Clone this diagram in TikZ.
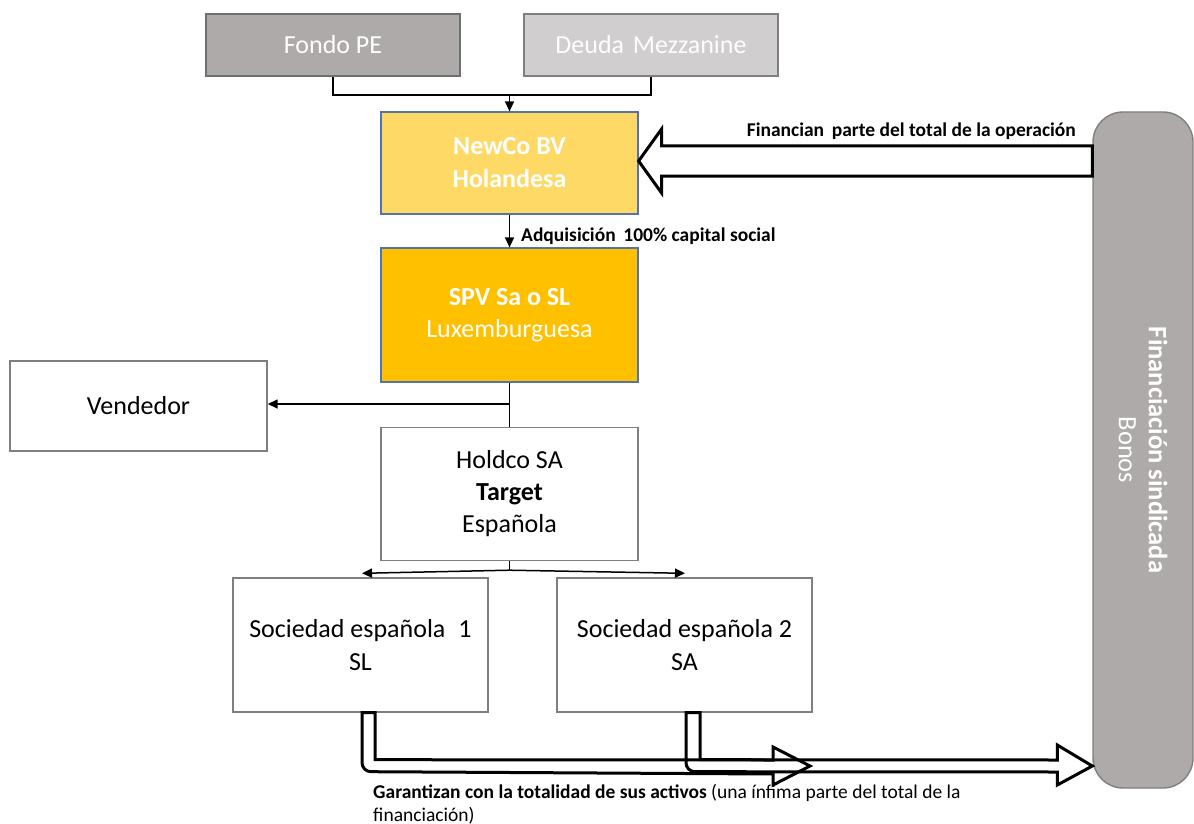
\documentclass[tikz,border=0pt]{standalone}
\usepackage{fontspec}
\setmainfont{Carlito}
\usetikzlibrary{arrows.meta,calc}
\definecolor{fondoC}{HTML}{ADAAA9}
\definecolor{deudaC}{HTML}{D0CECE}
\definecolor{newcoC}{HTML}{FFD966}
\definecolor{spvC}{HTML}{FFC000}
\definecolor{edgeG}{HTML}{7F7F7F}
\definecolor{edgeD}{HTML}{6F6F6F}
\definecolor{edgeB}{HTML}{5473A8}
\begin{document}
\begin{tikzpicture}[x=1pt,y=-1pt,
  box/.style={draw=edgeG,line width=1.4pt,fill=white,minimum width=257pt,inner sep=0pt,align=center,font=\fontsize{26}{32.5}\selectfont},
  grey/.style={box,draw=edgeD,line width=1.8pt,text=white},
  gold/.style={box,draw=edgeB,line width=1.2pt,text=white},
  conn/.style={line width=1.5pt,black},
  arr/.style={conn,-{Triangle[length=10pt,width=9pt]}},
  fat/.style={line width=3pt,black,line join=miter},
  lbl/.style={font=\fontsize{19.5}{23.5}\selectfont\bfseries,inner sep=0pt}
]
\useasboundingbox (0,0) rectangle (1194,824);

% nodes
\node[grey,fill=fondoC,minimum width=254pt,minimum height=62pt] (fondo) at (333,45) {Fondo PE};
\node[grey,fill=deudaC,draw=edgeG,minimum width=254pt,minimum height=62pt] (deuda) at (651,45) {Deuda\,\,Mezzanine};
\node[gold,fill=newcoC,minimum height=102pt,font=\fontsize{26}{33}\selectfont\bfseries] (newco) at (509.5,163) {NewCo BV\\Holandesa};
\node[gold,fill=spvC,minimum height=134pt] (spv) at (509.5,315) {\textbf{SPV Sa o SL}\\Luxemburguesa};
\node[box,minimum height=90pt] (vend) at (138.5,406) {Vendedor};
\node[box,minimum height=133pt,font=\fontsize{26}{32}\selectfont] (holdco) at (509.5,494) {Holdco SA\\\textbf{Target}\\Española};
\node[box,minimum width=255pt,minimum height=134pt] (soc1) at (360.5,645) {Sociedad española\,\,\,1\\SL};
\node[box,minimum width=255pt,minimum height=134pt] (soc2) at (684.5,645) {Sociedad española 2\\SA};
\node[draw=edgeG,line width=1.4pt,fill=fondoC,rounded corners=30pt,minimum width=100pt,minimum height=676pt,inner sep=0pt] (fin) at (1143,450) {};
\node[rotate=-90,text=white,align=center,font=\fontsize{26.5}{30}\selectfont] (fintxt) at (fin.center) {\textbf{Financiación sindicada}\\Bonos};

% top connectors
\coordinate (jtop) at (newco.north |- 0,95);
\draw[conn] (fondo.south) |- (jtop) -| (deuda.south);
\draw[arr] (jtop) -- (newco.north);

% newco -> spv
\draw[arr] (newco.south) -- (spv.north);
\node[lbl,anchor=west] (adq) at (521,236) {Adquisición\, 100\% capital social};

% spv -> holdco, vendedor
\coordinate (vj) at (spv.south |- vend.east);
\draw[conn] (spv.south) -- (holdco.north);
\draw[arr] ([yshift=2pt]vj) -- ([yshift=2pt]vend.east);

% holdco branches
\coordinate (hj) at ($(holdco.south)+(0,9)$);
\coordinate (b1) at ($(soc1.north)+(1.5,-4)$);
\coordinate (b2) at ($(soc2.north)+(0.5,-4)$);
\draw[conn] (holdco.south) -- (hj);
\draw[arr] (hj) -- (b1);
\draw[arr] (hj) -- (b2);

% big arrow fin -> newco
\coordinate (tipA) at (newco.east |- 0,161);
\coordinate (endA) at (fin.west |- 0,161);
\draw[fat,fill=white] (tipA) -- ++(23,-32) -- ++(0,17) -- ($(endA)+(0,-15)$) -- ($(endA)+(0,15)$) -- ($(tipA)+(23,15)$) -- ($(tipA)+(23,32)$) -- cycle;
\node[lbl,anchor=east] (finan) at (1076,131) {Financian\, parte del total de la operación};

% bent arrows
\coordinate (s1) at ($(soc1.south)+(1.5,0)$);
\coordinate (s2) at ($(soc2.south)+(1.5,0)$);
\coordinate (h1) at (810,766);
\coordinate (h2) at (fin.west |- 0,766);
\draw[fat] (s1) -- ++(13,0) -- ++(0,47) -- ($(h1)+(-37,-6)$) -- ++(0,-13) -- (h1) -- ++(-37,19) -- ++(0,-11) -- ($(s1)+(9,59)$) arc[start angle=90,end angle=180,radius=9] -- cycle;
\draw[fat] (s2) -- ++(14,0) -- ++(0,47) -- ($(h2)+(-35,-6)$) -- ++(0,-15) -- (h2) -- ++(-35,19) -- ++(0,-13) -- ($(s2)+(9,59)$) arc[start angle=90,end angle=180,radius=9] -- cycle;
\node[anchor=north west,align=left,inner sep=0pt,font=\fontsize{19.5}{23}\selectfont] (gar) at (373,784) {\textbf{Garantizan con la totalidad de sus activos} (una ínfima parte del total de la\\financiación)};
\end{tikzpicture}
\end{document}
